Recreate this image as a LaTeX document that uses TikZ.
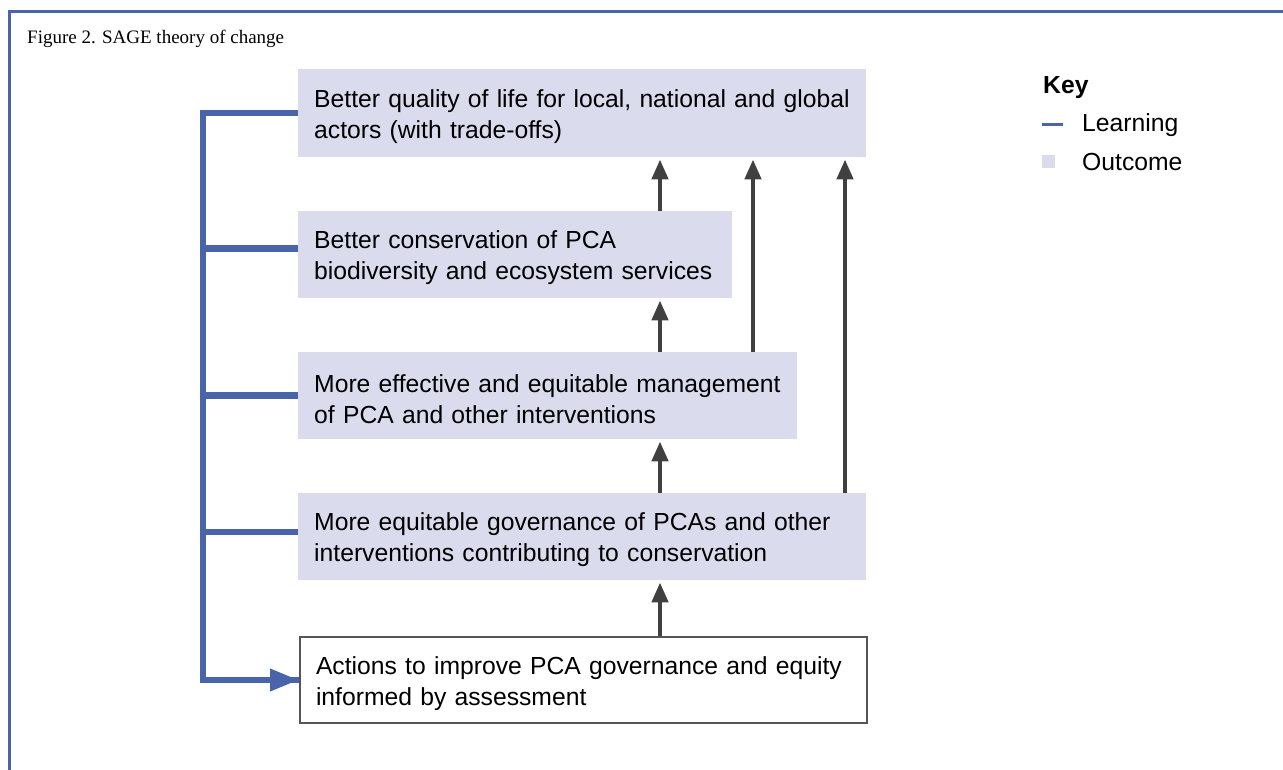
\documentclass[tikz,border=0pt]{standalone}
\usepackage{fontspec}
\setmainfont{Liberation Sans}
\newfontfamily\captionfont{Liberation Serif}
\usetikzlibrary{arrows.meta}
\definecolor{learnblue}{HTML}{4A64AC}
\definecolor{outfill}{HTML}{DADBED}
\definecolor{arrowgray}{HTML}{404040}
\definecolor{actionline}{HTML}{555555}
% tall strut that lowers the two-line box texts a little
\newcommand{\boxstrut}{\rule{0pt}{24.5pt}}

\begin{document}
\begin{tikzpicture}[x=1pt,y=-1pt,
  boxtext/.style={anchor=north west, inner xsep=16pt, inner ysep=0pt,
    align=left, font=\fontsize{24.7}{31}\selectfont},
  outcome/.style={boxtext, fill=outfill},
  actionbox/.style={boxtext, fill=white, draw=actionline, line width=2pt},
  upflow/.style={draw=arrowgray, line width=4.5pt,
    -{Triangle[length=20pt,width=16pt]}, shorten >=2pt},
  learning/.style={draw=learnblue, line width=6.5pt, line join=miter},
  keytext/.style={anchor=base west, inner sep=0pt, font=\fontsize{24.7}{28}\selectfont}
]
\useasboundingbox (0,0) rectangle (1283,769);

% frame
\coordinate (fbl) at (9.3,775);
\coordinate (ftl) at (9.3,11.3);
\coordinate (ftr) at (1290,11.3);
\draw[learnblue, line width=2.7pt] (fbl) -- (ftl) -- (ftr);

\node[anchor=base west, inner sep=0pt, font=\captionfont\fontsize{19}{22}\selectfont]
  (title) at (27,43) {Figure 2. SAGE theory of change};

% outcome and action boxes
\node[outcome, text width=536pt, minimum height=88pt] (b1) at (298,69)
  {\boxstrut Better quality of life for local, national and global\\actors (with trade-offs)};
\node[outcome, text width=402pt, minimum height=87pt] (b2) at (298,211)
  {\boxstrut Better conservation of PCA\\biodiversity and ecosystem services};
\node[outcome, text width=467pt, minimum height=87pt] (b3) at (298,352)
  {\boxstrut More effective and equitable management\\of PCA and other interventions};
\node[outcome, text width=536pt, minimum height=87pt] (b4) at (298,493)
  {\boxstrut More equitable governance of PCAs and other\\interventions contributing to conservation};
\node[actionbox, text width=535pt, minimum height=86pt] (b5) at (299,636)
  {\boxstrut Actions to improve PCA governance and equity\\informed by assessment};

% upward causal arrows
\coordinate (colA) at (660,0);
\coordinate (colB) at (753,0);
\coordinate (colC) at (845,0);
\draw[upflow] (colA |- b5.north) -- (colA |- b4.south);
\draw[upflow] (colA |- b4.north) -- (colA |- b3.south);
\draw[upflow] (colA |- b3.north) -- (colA |- b2.south);
\draw[upflow] (colA |- b2.north) -- (colA |- b1.south);
\draw[upflow] (colB |- b3.north) -- (colB |- b1.south);
\draw[upflow] (colC |- b4.north) -- (colC |- b1.south);

% learning loop
\coordinate (trunk) at (203,0);
\coordinate (br2) at ([yshift=6pt]b2.west);
\coordinate (br4) at ([yshift=4.5pt]b4.west);
\draw[learning] (b1.west) -- (trunk |- b1.west) -- (trunk |- b5.west) -- (b5.west);
\draw[learnblue, line width=6.5pt, -{Triangle[length=29pt,width=21pt]}]
  ([xshift=-40pt]b5.west) -- (b5.west);
\draw[learning] (trunk |- br2) -- (br2);
\draw[learning] (trunk |- b3.west) -- (b3.west);
\draw[learning] (trunk |- br4) -- (br4);

% key
\node[keytext, font=\bfseries\fontsize{24.7}{28}\selectfont] (keyhead) at (1043,93.3) {Key};
\coordinate (dashL) at (1042,124.3);
\coordinate (dashR) at (1063,124.3);
\draw[learnblue, line width=3.3pt] (dashL) -- (dashR);
\node[keytext] (keylearn) at (1082,131.7) {Learning};
\node[fill=outfill, minimum size=13pt, inner sep=0pt, anchor=north west] (keysq) at (1042,155) {};
\node[keytext] (keyout) at (1082,170) {Outcome};
\end{tikzpicture}
\end{document}
